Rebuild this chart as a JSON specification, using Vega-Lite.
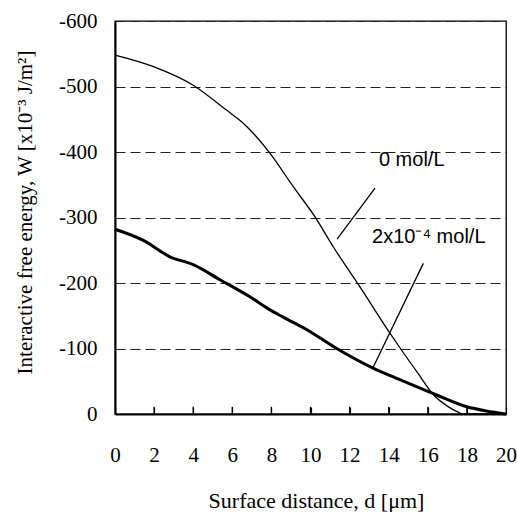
{
  "$schema": "https://vega.github.io/schema/vega-lite/v6.json",
  "autosize": {"type": "none"},
  "width": 391,
  "height": 393,
  "padding": {"left": 115, "top": 21, "right": 11, "bottom": 98},
  "background": "white",
  "config": {
    "view": {"stroke": "black", "strokeWidth": 1.3},
    "axis": {"labelFont": "Liberation Serif", "titleFont": "Liberation Serif", "labelColor": "black", "titleColor": "black", "titleFontWeight": "normal", "labelOverlap": false}
  },
  "datasets": {
    "curves": [
      {"d": 0, "W": -548, "series": "0 mol/L"},
      {"d": 2, "W": -530, "series": "0 mol/L"},
      {"d": 4, "W": -502, "series": "0 mol/L"},
      {"d": 5.7, "W": -464, "series": "0 mol/L"},
      {"d": 6.56, "W": -444, "series": "0 mol/L"},
      {"d": 7.93, "W": -398, "series": "0 mol/L"},
      {"d": 9.12, "W": -347, "series": "0 mol/L"},
      {"d": 10.23, "W": -301, "series": "0 mol/L"},
      {"d": 11.17, "W": -255, "series": "0 mol/L"},
      {"d": 12.53, "W": -194, "series": "0 mol/L"},
      {"d": 14.07, "W": -123, "series": "0 mol/L"},
      {"d": 14.6, "W": -100, "series": "0 mol/L"},
      {"d": 15.5, "W": -62, "series": "0 mol/L"},
      {"d": 16.3, "W": -29, "series": "0 mol/L"},
      {"d": 17.0, "W": -12, "series": "0 mol/L"},
      {"d": 17.5, "W": -3.5, "series": "0 mol/L"},
      {"d": 17.8, "W": 0, "series": "0 mol/L"},
      {"d": 20, "W": 0, "series": "0 mol/L"},
      {"d": 0, "W": -282, "series": "2x10-4 mol/L"},
      {"d": 1.45, "W": -265, "series": "2x10-4 mol/L"},
      {"d": 2.81, "W": -240, "series": "2x10-4 mol/L"},
      {"d": 4.0, "W": -228, "series": "2x10-4 mol/L"},
      {"d": 5.37, "W": -205, "series": "2x10-4 mol/L"},
      {"d": 6.9, "W": -179, "series": "2x10-4 mol/L"},
      {"d": 7.93, "W": -159, "series": "2x10-4 mol/L"},
      {"d": 8.6, "W": -148, "series": "2x10-4 mol/L"},
      {"d": 9.97, "W": -126, "series": "2x10-4 mol/L"},
      {"d": 11.17, "W": -103, "series": "2x10-4 mol/L"},
      {"d": 13.2, "W": -70, "series": "2x10-4 mol/L"},
      {"d": 14.6, "W": -52, "series": "2x10-4 mol/L"},
      {"d": 16.45, "W": -29, "series": "2x10-4 mol/L"},
      {"d": 18, "W": -11, "series": "2x10-4 mol/L"},
      {"d": 19, "W": -4.6, "series": "2x10-4 mol/L"},
      {"d": 20, "W": 0, "series": "2x10-4 mol/L"}
    ],
    "leaders": [
      {"d": 13.3, "W": -345, "d2": 11.36, "W2": -267},
      {"d": 15.77, "W": -230, "d2": 13.2, "W2": -71}
    ],
    "labels": [
      {"d": 13.5, "W": -388, "text": "0 mol/L"},
      {"d": 13.15, "W": -270, "text": "2x10⁻⁴ mol/L"}
    ],
    "xticks": [
      {"d": 2, "W": 0}, {"d": 4, "W": 0}, {"d": 6, "W": 0}, {"d": 8, "W": 0},
      {"d": 10, "W": 0}, {"d": 12, "W": 0}, {"d": 14, "W": 0}, {"d": 16, "W": 0}, {"d": 18, "W": 0}
    ]
  },
  "encoding": {
    "x": {
      "field": "d", "type": "quantitative",
      "scale": {"domain": [0, 20], "nice": false},
      "axis": {
        "title": "Surface distance, d [μm]",
        "values": [0, 2, 4, 6, 8, 10, 12, 14, 16, 18, 20],
        "grid": false, "labelOverlap": false, "zindex": 1,
        "domainColor": "black", "domainWidth": 2,
        "tickColor": "black", "tickSize": -7, "tickWidth": 1.2,
        "labelFontSize": 21, "labelPadding": 37, "labelFlush": false,
        "titleFontSize": 22, "titlePadding": 25, "titleX": 201
      }
    },
    "y": {
      "field": "W", "type": "quantitative",
      "scale": {"domain": [-600, 0], "reverse": true, "nice": false},
      "axis": {
        "title": "Interactive free energy, W [x10⁻³ J/m²]",
        "values": [-600, -500, -400, -300, -200, -100, 0],
        "labelExpr": "datum.value == 0 ? '0' : '-' + abs(datum.value)",
        "grid": true, "gridColor": "#222", "gridDash": [10, 5], "gridWidth": 1,
        "domainColor": "black", "domainWidth": 2,
        "ticks": false, "labelOverlap": false,
        "labelFontSize": 21, "labelPadding": 18,
        "titleFontSize": 21, "titleX": -90, "titleY": 191, "titleBaseline": "middle", "titleAlign": "center", "titleAngle": -90
      }
    }
  },
  "layer": [
    {
      "data": {"name": "xticks"},
      "mark": {"type": "rule", "color": "black", "strokeWidth": 1.3},
      "encoding": {
        "y2": {"datum": -11}
      }
    },
    {
      "data": {"name": "curves"},
      "mark": {"type": "line", "color": "black", "strokeWidth": 1.3, "interpolate": "monotone"},
      "transform": [{"filter": "datum.series == '0 mol/L'"}]
    },
    {
      "data": {"name": "curves"},
      "mark": {"type": "line", "color": "black", "strokeWidth": 3, "interpolate": "monotone"},
      "transform": [{"filter": "datum.series != '0 mol/L'"}]
    },
    {
      "data": {"name": "leaders"},
      "mark": {"type": "rule", "color": "black", "strokeWidth": 1.3},
      "encoding": {
        "x2": {"field": "d2"},
        "y2": {"field": "W2"}
      }
    },
    {
      "data": {"name": "labels"},
      "mark": {"type": "text", "align": "left", "baseline": "middle", "font": "Liberation Sans", "fontSize": 20, "color": "black"},
      "encoding": {
        "text": {"field": "text"}
      }
    }
  ]
}
